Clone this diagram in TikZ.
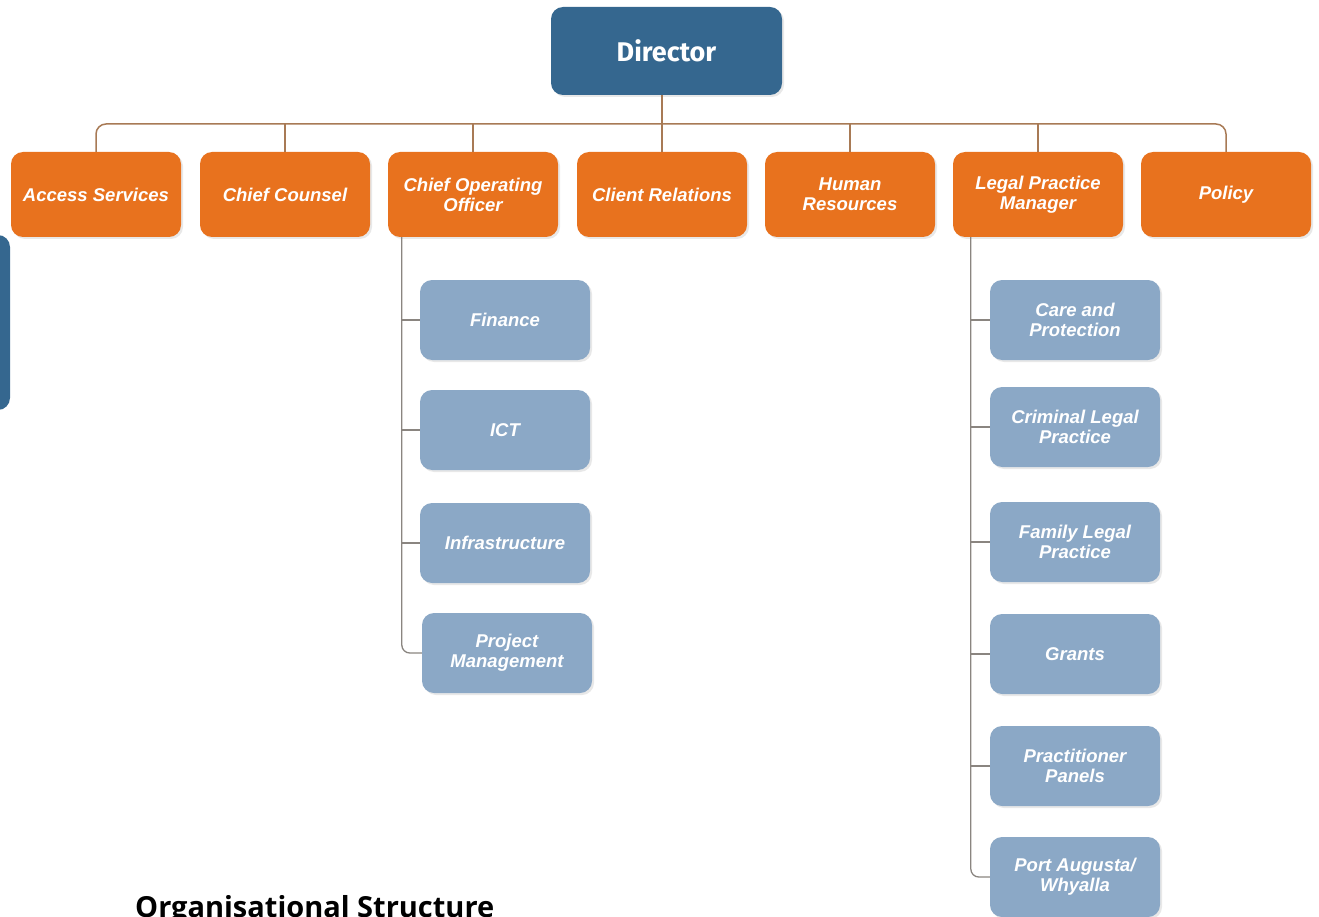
\documentclass[tikz,border=0pt]{standalone}
\usepackage{fontspec}
\setmainfont{Liberation Sans}
\newfontfamily\dirfont{Fira Sans}
\newfontfamily\capfont{Open Sans}
\usetikzlibrary{shadows,calc}
\definecolor{dirblue}{HTML}{35678F}
\definecolor{orng}{HTML}{E8721E}
\definecolor{subblue}{HTML}{8BA8C6}
\definecolor{lnc}{HTML}{A87A55}
\definecolor{sublnc}{HTML}{8A8580}
\tikzset{
  x=1pt, y=-1pt,
  shd/.style={drop shadow={opacity=0.18, shadow xshift=2pt, shadow yshift=-2pt}},
  dirbox/.style={fill=dirblue, rounded corners=12pt, minimum width=231pt, minimum height=88pt,
    text=white, font=\dirfont\bfseries\fontsize{27}{30}\selectfont, shd},
  orbox/.style={fill=orng, rounded corners=12pt, minimum width=170pt, minimum height=85pt,
    text=white, align=center, inner sep=2pt, font=\bfseries\itshape\fontsize{18.5}{20}\selectfont, shd},
  subbox/.style={fill=subblue, rounded corners=12pt, minimum width=170pt, minimum height=80pt,
    text=white, align=center, inner sep=2pt, font=\bfseries\itshape\fontsize{18.5}{20}\selectfont, shd},
  conn/.style={draw=lnc, line width=1.5pt},
  subconn/.style={draw=sublnc, line width=1.3pt},
}
\begin{document}
\begin{tikzpicture}
\useasboundingbox (0,0) rectangle (1319,917);
% partial box at left edge
\node[fill=dirblue, rounded corners=12pt, minimum width=60pt, minimum height=175pt] (side) at (-20,322.5) {};

\node[dirbox] (dir) at (666.5,51) {Director};

\node[orbox] (as)  at (96,194.5)   {Access Services};
\node[orbox] (cc)  at (285,194.5)  {Chief Counsel};
\node[orbox] (coo) at (473,194.5)  {Chief Operating\\Officer};
\node[orbox] (cr)  at (662,194.5)  {Client Relations};
\node[orbox] (hr)  at (850,194.5)  {Human\\Resources};
\node[orbox] (lpm) at (1038,194.5) {Legal Practice\\Manager};
\node[orbox] (pol) at (1226,194.5) {Policy};

\coordinate (bus) at (662,124);
\draw[conn, rounded corners=10pt] (as.north) -- (as.north |- bus) -- (pol.north |- bus) -- (pol.north);
\draw[conn] (dir.south -| bus) -- (bus);
\foreach \n in {cc,coo,cr,hr,lpm}{ \draw[conn] (\n.north) -- (\n.north |- bus); }

% COO branch
\node[subbox] (fin) at (505,320) {Finance};
\node[subbox] (ict) at (505,430) {ICT};
\node[subbox] (inf) at (505,543) {Infrastructure};
\node[subbox] (pm)  at (507,653) {Project\\Management};
\coordinate (cooL) at ($(coo.south west)+(14,0)$);
\draw[subconn, rounded corners=8pt] (cooL) |- (pm.west);
\foreach \n in {fin,ict,inf}{ \draw[subconn] (cooL |- \n.west) -- (\n.west); }

% LPM branch
\node[subbox] (cp)  at (1075,320) {Care and\\Protection};
\node[subbox] (clp) at (1075,427) {Criminal Legal\\Practice};
\node[subbox] (flp) at (1075,542) {Family Legal\\Practice};
\node[subbox] (gr)  at (1075,654) {Grants};
\node[subbox] (pp)  at (1075,766) {Practitioner\\Panels};
\node[subbox] (pa)  at (1075,877) {Port Augusta/\\Whyalla};
\coordinate (lpmL) at ($(lpm.south west)+(18,0)$);
\draw[subconn, rounded corners=8pt] (lpmL) |- (pa.west);
\foreach \n in {cp,clp,flp,gr,pp}{ \draw[subconn] (lpmL |- \n.west) -- (\n.west); }

\node[anchor=base west, inner sep=0pt, font=\capfont\bfseries\fontsize{29}{32}\selectfont] (cap) at (135,917) {Organisational Structure};
\end{tikzpicture}
\end{document}
